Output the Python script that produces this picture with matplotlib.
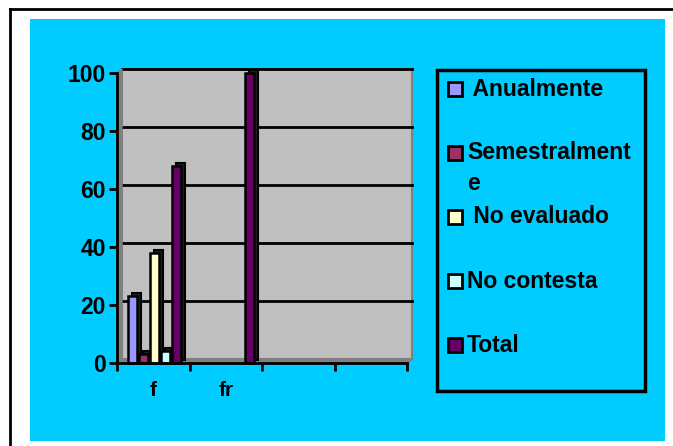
import numpy as np
import matplotlib
matplotlib.use('Agg')
import matplotlib.pyplot as plt
import matplotlib.transforms as mtransforms
from matplotlib.patches import Rectangle, Polygon

plt.rcParams['font.family'] = ['Liberation Sans', 'DejaVu Sans']

# datos
categorias = ['f', 'fr', '', '']
series = ['Anualmente', 'Semestralmente', 'No evaluado', 'No contesta', 'Total']
etiquetas = [' Anualmente', 'Semestralment\ne', ' No evaluado', 'No contesta', 'Total']
valores_f = [23, 3, 38, 4, 68]
valores_fr = [None, None, None, None, 100]
colores = ['#9999FF', '#993366', '#FFFFCC', '#CCFFFF', '#660066']
yticks = [0, 20, 40, 60, 80, 100]

W, H = 673, 446
fig = plt.figure(figsize=(W / 100, H / 100), dpi=100)
fig.patch.set_facecolor('white')


def px(x0, y0, x1, y1):
    # caja en pixeles -> fraccion de figura
    return [x0 / W, 1 - y1 / H, (x1 - x0) / W, (y1 - y0) / H]


# marco exterior y fondo cian
fig.add_artist(plt.Line2D([10 / W, 10 / W], [0, 1 - 9 / H], color='black', lw=2))
fig.add_artist(plt.Line2D([10 / W, 1], [1 - 9 / H, 1 - 9 / H], color='black', lw=2))
fig.add_artist(Rectangle((30 / W, 1 - 441 / H), 635 / W, 422 / H,
                         transform=fig.transFigure, facecolor='#00CCFF', edgecolor='none', zorder=0))

ax = fig.add_axes(px(117, 73, 407, 363))
ax.set_facecolor('none')
ax.set_xlim(0, len(categorias))
ax.set_ylim(0, 100)

# efecto 3D: pared del fondo, suelo y pared izquierda
dx, dy = 5, 4
fondo = mtransforms.offset_copy(ax.transData, fig=fig, x=dx, y=dy, units='dots')
ax.add_patch(Rectangle((0, 0), len(categorias), 100, transform=fondo,
                       facecolor='#C0C0C0', edgecolor='#808080', lw=1.5, zorder=0, clip_on=False))
for y in yticks[1:]:
    ax.plot([0, len(categorias)], [y, y], color='black', lw=2, transform=fondo, zorder=1, clip_on=False)

x0, y0 = ax.transData.transform((0, 0))
x1, _ = ax.transData.transform((len(categorias), 0))
_, y1 = ax.transData.transform((0, 100))
inv = ax.transData.inverted()
suelo = [(x0, y0), (x1, y0), (x1 + dx, y0 + dy), (x0 + dx, y0 + dy)]
pared = [(x0, y0), (x0 + dx, y0 + dy), (x0 + dx, y1 + dy), (x0, y1)]
for pts in (suelo, pared):
    ax.add_patch(Polygon(inv.transform(pts), closed=True, facecolor='#808080',
                         edgecolor='#808080', zorder=1, clip_on=False))

# barras
ancho = 0.13
paso = 0.152
for i, valores in enumerate([valores_f, valores_fr]):
    for j, v in enumerate(valores):
        if v is None:
            continue
        xc = i + 0.52 + (j - 2) * paso
        prof = mtransforms.offset_copy(ax.transData, fig=fig, x=4, y=3, units='dots')
        ax.add_patch(Rectangle((xc - ancho / 2, 0), ancho, v, transform=prof,
                               facecolor='#202020', edgecolor='black', lw=1.5, zorder=2, clip_on=False))
        ax.bar(xc, v, width=ancho, color=colores[j], edgecolor='black', lw=1.8, zorder=3, clip_on=False)

# ejes
for s in ['top', 'right']:
    ax.spines[s].set_visible(False)
ax.spines['left'].set_linewidth(2)
ax.spines['bottom'].set_linewidth(2)
ax.spines['left'].set_zorder(4)
ax.spines['bottom'].set_zorder(4)
ax.set_yticks(yticks)
ax.set_yticklabels([str(t) for t in yticks], fontsize=16.5, fontweight='bold')
ax.tick_params(axis='y', length=6, width=2, pad=2)
ax.set_xticks(np.arange(len(categorias) + 1))
ax.set_xticklabels([])
ax.set_xticks(np.arange(len(categorias)) + 0.5, minor=True)
ax.set_xticklabels(categorias, minor=True, fontsize=15, fontweight='bold')
ax.tick_params(axis='x', which='major', length=6, width=2)
ax.tick_params(axis='x', which='minor', length=0, pad=13)

# leyenda
fig.add_artist(Rectangle((437 / W, 1 - 391 / H), 208 / W, 321 / H, transform=fig.transFigure,
                         facecolor='none', edgecolor='black', lw=2.5, zorder=5))
ys = [89, 168, 217, 281, 345]
for j, nombre in enumerate(series):
    yc = ys[j]
    yc_caja = 153 if j == 1 else yc
    fig.add_artist(Rectangle((448 / W, 1 - (yc_caja + 7) / H), 14 / W, 14 / H, transform=fig.transFigure,
                             facecolor=colores[j], edgecolor='black', lw=2, zorder=6))
    fig.text(467 / W, 1 - yc / H, etiquetas[j], fontsize=16.5, fontweight='bold',
             va='center', ha='left', linespacing=1.45, zorder=6)

fig.savefig('out.png', dpi=100)
